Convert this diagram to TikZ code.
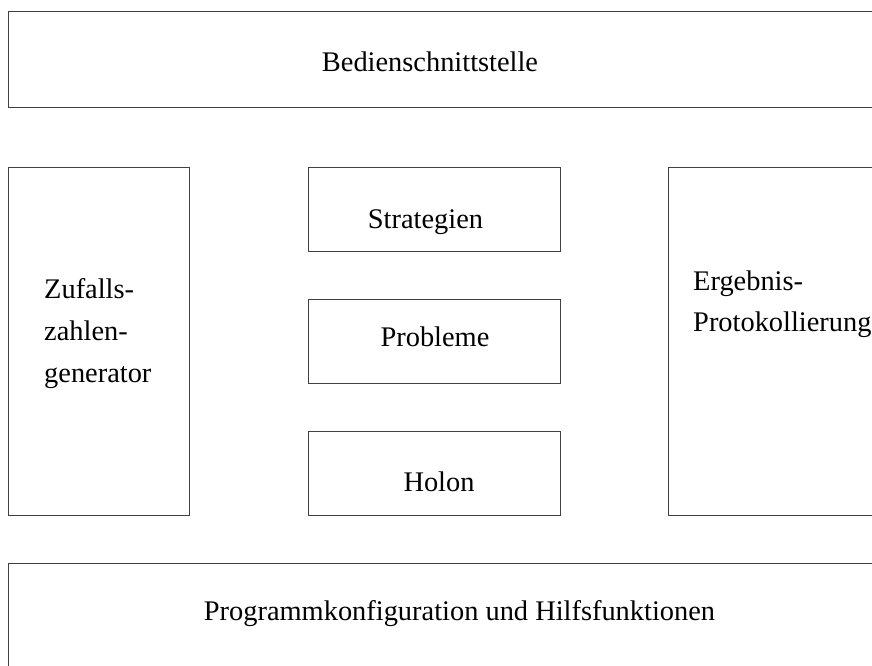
\documentclass[tikz,border=0pt]{standalone}
\usepackage{fontspec}
\setmainfont{Liberation Serif}
\begin{document}
\begin{tikzpicture}[x=1pt,y=-1pt,
  box/.style={draw=black!75,line width=1.4pt,rectangle,inner sep=0pt,anchor=north west},
  lbl/.style={inner sep=0pt,font=\fontsize{28.4}{41}\selectfont},
  lblw/.style={lbl,anchor=base west},
  lblc/.style={lbl,anchor=base}]
\useasboundingbox (0,0) rectangle (872,666);
\clip (0,0) rectangle (872,666);
\node[box,minimum width=880pt,minimum height=96pt] (top) at (8,11) {};
\node[box,minimum width=181pt,minimum height=348pt] (zuf) at (8,167) {};
\node[box,minimum width=252pt,minimum height=84pt] (str) at (308,167) {};
\node[box,minimum width=252pt,minimum height=84pt] (pro) at (308,299) {};
\node[box,minimum width=252pt,minimum height=84pt] (hol) at (308,431) {};
\node[box,minimum width=220pt,minimum height=348pt] (erg) at (668,167) {};
\node[box,minimum width=880pt,minimum height=120pt] (bot) at (8,563) {};
\node[lblc] (tBed) at (430,72) {Bedienschnittstelle};
\node[lblc] (tStr) at (425.5,228) {Strategien};
\node[lblc] (tPro) at (435,346) {Probleme};
\node[lblc] (tHol) at (439,491) {Holon};
\node[lblw] (tZ1) at (44,298) {Zufalls-};
\node[lblw] (tZ2) at (44,340) {zahlen-};
\node[lblw] (tZ3) at (44,382) {generator};
\node[lblw] (tE1) at (693,290) {Ergebnis-};
\node[lblw] (tE2) at (693,331) {Protokollierung};
\node[lblc] (tPrg) at (459.5,620) {Programmkonfiguration und Hilfsfunktionen};
\end{tikzpicture}
\end{document}
